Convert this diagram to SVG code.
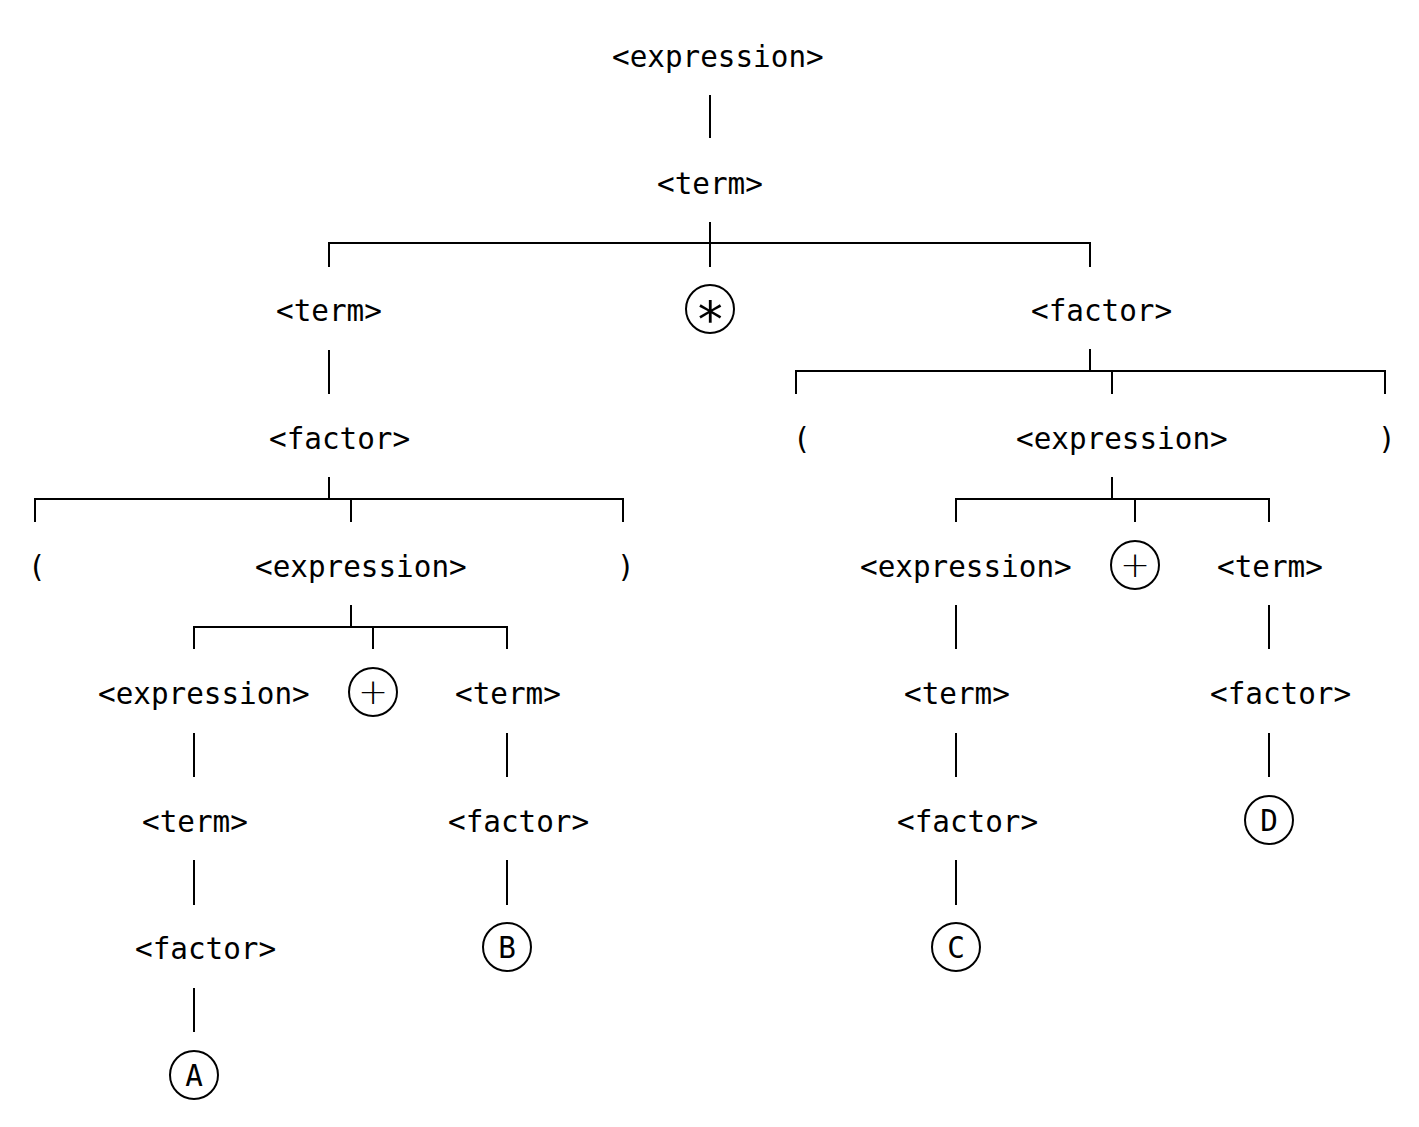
<svg xmlns="http://www.w3.org/2000/svg" width="1419" height="1127" viewBox="0 0 1419 1127">
<style>
text{font-family:"DejaVu Sans Mono","Liberation Mono",monospace;font-size:29.3px;fill:#000}
.c text{text-anchor:middle}
text.op{font-family:"DejaVu Sans",sans-serif;font-weight:200;font-size:36px}
text.ast{font-size:50px}
line,path{stroke:#000;stroke-width:2;fill:none}
circle{stroke:#000;stroke-width:2;fill:#fff}
</style>
<rect width="1419" height="1127" fill="#fff"/>
<g id="connectors">
<line x1="710" y1="95" x2="710" y2="138"/>
<line x1="710" y1="222" x2="710" y2="267"/>
<path d="M329 267V243H1090V267"/>
<line x1="329" y1="350" x2="329" y2="394"/>
<path d="M1090 349V371"/>
<path d="M796 394V371H1385V394"/>
<line x1="1112" y1="371" x2="1112" y2="394"/>
<path d="M329 477V499"/>
<path d="M35 522V499H623V522"/>
<line x1="351" y1="499" x2="351" y2="522"/>
<path d="M1112 477V499"/>
<path d="M956 522V499H1269V522"/>
<line x1="1135" y1="499" x2="1135" y2="522"/>
<path d="M351 605V627"/>
<path d="M194 649V627H507V649"/>
<line x1="373" y1="627" x2="373" y2="649"/>
<line x1="194" y1="733" x2="194" y2="777"/>
<line x1="194" y1="860" x2="194" y2="905"/>
<line x1="194" y1="988" x2="194" y2="1032"/>
<line x1="507" y1="733" x2="507" y2="777"/>
<line x1="507" y1="860" x2="507" y2="905"/>
<line x1="956" y1="605" x2="956" y2="649"/>
<line x1="956" y1="733" x2="956" y2="777"/>
<line x1="956" y1="860" x2="956" y2="905"/>
<line x1="1269" y1="605" x2="1269" y2="649"/>
<line x1="1269" y1="733" x2="1269" y2="777"/>
</g>
<g id="n1"><text x="612" y="67">&lt;expression&gt;</text></g>
<g id="n2"><text x="657" y="194">&lt;term&gt;</text></g>
<g id="n3"><text x="276" y="321">&lt;term&gt;</text></g>
<g id="n4" class="c"><circle cx="710" cy="309" r="24"/><text class="ast" x="710" y="327">∗</text></g>
<g id="n5"><text x="1031" y="321">&lt;factor&gt;</text></g>
<g id="n6"><text x="269" y="449">&lt;factor&gt;</text></g>
<g id="n7"><text x="793" y="449">(</text></g>
<g id="n8"><text x="1016" y="449">&lt;expression&gt;</text></g>
<g id="n9"><text x="1378" y="449">)</text></g>
<g id="n10"><text x="28" y="577">(</text></g>
<g id="n11"><text x="255" y="577">&lt;expression&gt;</text></g>
<g id="n12"><text x="617" y="577">)</text></g>
<g id="n13"><text x="860" y="577">&lt;expression&gt;</text></g>
<g id="n14" class="c"><circle cx="1135" cy="565" r="24"/><text class="op" x="1135" y="577">+</text></g>
<g id="n15"><text x="1217" y="577">&lt;term&gt;</text></g>
<g id="n16"><text x="98" y="704">&lt;expression&gt;</text></g>
<g id="n17" class="c"><circle cx="373" cy="692" r="24"/><text class="op" x="373" y="704">+</text></g>
<g id="n18"><text x="455" y="704">&lt;term&gt;</text></g>
<g id="n19"><text x="904" y="704">&lt;term&gt;</text></g>
<g id="n20"><text x="1210" y="704">&lt;factor&gt;</text></g>
<g id="n21"><text x="142" y="832">&lt;term&gt;</text></g>
<g id="n22"><text x="448" y="832">&lt;factor&gt;</text></g>
<g id="n23"><text x="897" y="832">&lt;factor&gt;</text></g>
<g id="n24" class="c"><circle cx="1269" cy="820" r="24"/><text x="1269" y="831">D</text></g>
<g id="n25"><text x="135" y="959">&lt;factor&gt;</text></g>
<g id="n26" class="c"><circle cx="507" cy="947" r="24"/><text x="507" y="958">B</text></g>
<g id="n27" class="c"><circle cx="956" cy="947" r="24"/><text x="956" y="958">C</text></g>
<g id="n28" class="c"><circle cx="194" cy="1075" r="24"/><text x="194" y="1086">A</text></g>
</svg>
